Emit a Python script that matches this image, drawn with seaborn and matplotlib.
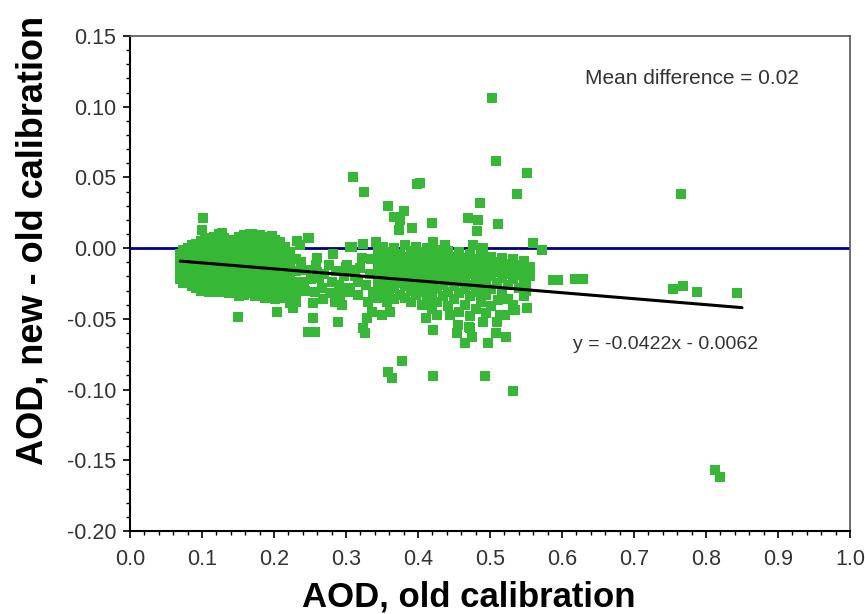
import matplotlib
matplotlib.use("Agg")
import matplotlib.pyplot as plt
import seaborn as sns
import pandas as pd
from matplotlib.ticker import MultipleLocator, FormatStrFormatter

# ---------------- data ----------------
# dense left cluster: column x positions and the y values in each column
left_cols_x = [0.070, 0.074, 0.080, 0.086, 0.092, 0.098, 0.104, 0.110, 0.117, 0.124,
               0.131, 0.138, 0.145, 0.152, 0.159, 0.166, 0.173, 0.180, 0.187, 0.194,
               0.201, 0.208, 0.215, 0.222, 0.230]
left_cols_y = [
    [-0.004, -0.010, -0.016, -0.022],
    [-0.001, -0.007, -0.013, -0.019, -0.025],
    [0.000, -0.006, -0.012, -0.018, -0.024],
    [0.002, -0.004, -0.010, -0.016, -0.022, -0.027],
    [0.003, -0.003, -0.009, -0.015, -0.021, -0.028],
    [0.005, -0.001, -0.007, -0.013, -0.019, -0.025, -0.030],
    [0.007, 0.001, -0.005, -0.011, -0.017, -0.023, -0.029],
    [0.006, 0.000, -0.006, -0.012, -0.018, -0.024, -0.031],
    [0.008, 0.002, -0.004, -0.010, -0.016, -0.022, -0.028],
    [0.010, 0.004, -0.002, -0.008, -0.014, -0.020, -0.026, -0.031],
    [0.007, 0.001, -0.005, -0.011, -0.017, -0.023, -0.029],
    [0.005, -0.001, -0.007, -0.013, -0.019, -0.025, -0.032],
    [0.006, 0.000, -0.006, -0.012, -0.018, -0.024, -0.030],
    [0.008, 0.002, -0.004, -0.010, -0.016, -0.022, -0.028, -0.034],
    [0.009, 0.003, -0.003, -0.009, -0.015, -0.021, -0.027, -0.033],
    [0.010, 0.004, -0.002, -0.008, -0.014, -0.020, -0.026, -0.032],
    [0.008, 0.002, -0.004, -0.010, -0.016, -0.022, -0.028, -0.034],
    [0.009, 0.003, -0.003, -0.009, -0.015, -0.021, -0.027, -0.033],
    [0.007, 0.001, -0.005, -0.011, -0.017, -0.023, -0.029, -0.035],
    [0.008, 0.002, -0.004, -0.010, -0.016, -0.022, -0.028, -0.034],
    [0.006, 0.000, -0.006, -0.012, -0.018, -0.024, -0.030, -0.036],
    [0.004, -0.002, -0.008, -0.014, -0.020, -0.026, -0.032],
    [0.001, -0.005, -0.011, -0.017, -0.023, -0.029, -0.035],
    [-0.003, -0.009, -0.015, -0.021, -0.027, -0.033, -0.039],
    [-0.008, -0.016, -0.024, -0.031, -0.038],
]

# dense right cluster
right_cols_x = [0.345, 0.352, 0.360, 0.367, 0.375, 0.382, 0.390, 0.397, 0.405, 0.412,
                0.420, 0.427, 0.435, 0.442, 0.450, 0.457, 0.465, 0.472, 0.480, 0.487,
                0.495, 0.502, 0.510, 0.517, 0.525, 0.532, 0.540, 0.547, 0.555]
right_cols_y = [
    [-0.002, -0.009, -0.016, -0.023, -0.030],
    [0.001, -0.006, -0.013, -0.020, -0.027, -0.034],
    [-0.003, -0.010, -0.017, -0.024, -0.031],
    [0.000, -0.007, -0.014, -0.021, -0.028, -0.036],
    [-0.004, -0.011, -0.018, -0.025, -0.033],
    [0.002, -0.006, -0.013, -0.020, -0.027, -0.035],
    [-0.002, -0.009, -0.016, -0.023, -0.030, -0.038],
    [0.001, -0.005, -0.012, -0.019, -0.026, -0.033],
    [-0.003, -0.010, -0.017, -0.024, -0.031, -0.040],
    [0.000, -0.007, -0.014, -0.021, -0.028, -0.036],
    [-0.004, -0.011, -0.018, -0.025, -0.033, -0.043],
    [-0.001, -0.008, -0.015, -0.022, -0.029, -0.038],
    [-0.005, -0.012, -0.019, -0.026, -0.034],
    [-0.002, -0.009, -0.016, -0.023, -0.031, -0.041],
    [-0.006, -0.013, -0.020, -0.027, -0.036],
    [-0.003, -0.010, -0.017, -0.024, -0.032, -0.045],
    [-0.007, -0.014, -0.021, -0.029, -0.040],
    [-0.004, -0.011, -0.018, -0.026, -0.034, -0.048],
    [-0.008, -0.015, -0.022, -0.031, -0.043],
    [-0.005, -0.012, -0.019, -0.027, -0.038],
    [-0.009, -0.016, -0.024, -0.033, -0.046],
    [-0.006, -0.013, -0.020, -0.029, -0.041],
    [-0.010, -0.017, -0.025, -0.052],
    [-0.007, -0.014, -0.021, -0.031],
    [-0.011, -0.018, -0.026, -0.036],
    [-0.008, -0.015, -0.022, -0.040],
    [-0.012, -0.019, -0.028],
    [-0.009, -0.016, -0.023, -0.034],
    [-0.013, -0.020],
]

# points in the band between the two clusters
mid_x = [0.238, 0.243, 0.252, 0.258, 0.266, 0.270, 0.286, 0.290, 0.297, 0.303,
         0.313, 0.320, 0.328, 0.333, 0.338, 0.268, 0.335]
mid_y = [-0.010, -0.030, -0.022, -0.012, -0.028, -0.018, -0.016, -0.026, -0.020, -0.028,
         -0.020, -0.014, -0.026, -0.018, -0.031, -0.036, -0.008]

# scattered individual points
scatter_x = [0.101, 0.100, 0.128, 0.169, 0.197, 0.232, 0.247, 0.150, 0.204, 0.226,
             0.249, 0.236, 0.260, 0.282, 0.277, 0.245, 0.260, 0.241, 0.262, 0.280,
             0.257, 0.278, 0.292, 0.285, 0.294, 0.254, 0.254, 0.289, 0.247, 0.257,
             0.308, 0.324, 0.342, 0.306, 0.322, 0.301, 0.310, 0.317, 0.306, 0.317,
             0.331, 0.336, 0.329, 0.324, 0.326, 0.350, 0.361, 0.343, 0.357, 0.300,
             0.310, 0.325, 0.358, 0.367, 0.380, 0.373, 0.399, 0.375, 0.391, 0.419,
             0.403, 0.421, 0.438, 0.476, 0.490, 0.470, 0.483, 0.482, 0.511, 0.486,
             0.537, 0.551, 0.508, 0.503, 0.560, 0.572, 0.511, 0.556, 0.550, 0.550,
             0.551, 0.535, 0.521, 0.511, 0.411, 0.421, 0.456, 0.471, 0.454, 0.465,
             0.475, 0.497, 0.522, 0.508, 0.426, 0.444, 0.472, 0.490, 0.514, 0.358,
             0.364, 0.378, 0.421, 0.493, 0.532, 0.588, 0.594, 0.618, 0.629, 0.765,
             0.754, 0.768, 0.787, 0.843, 0.812, 0.820]
scatter_y = [0.021, 0.013, 0.011, 0.010, 0.0085, 0.005, 0.007, -0.049, -0.045, -0.042,
             0.007, 0.002, -0.007, -0.004, -0.012, -0.0155, -0.017, -0.024, -0.021, -0.024,
             -0.031, -0.032, -0.033, -0.038, -0.040, -0.039, -0.0495, -0.052, -0.0595, -0.0595,
             0.0007, 0.003, 0.004, 0.001, -0.007, -0.012, -0.0155, -0.024, -0.031, -0.033,
             -0.038, -0.045, -0.0495, -0.0565, -0.060, -0.047, -0.045, -0.035, -0.038, -0.013,
             0.050, 0.040, 0.030, 0.022, 0.026, 0.013, 0.045, 0.020, 0.014, 0.018,
             0.046, 0.004, 0.002, 0.002, 0.000, 0.021, 0.020, 0.012, 0.017, 0.032,
             0.038, 0.053, 0.0615, 0.106, 0.0035, -0.001, -0.012, -0.016, -0.024, -0.030,
             -0.042, -0.044, -0.047, -0.037, -0.0495, -0.058, -0.0545, -0.056, -0.060, -0.067,
             -0.063, -0.067, -0.063, -0.060, -0.047, -0.047, -0.0565, -0.052, -0.047, -0.0877,
             -0.092, -0.080, -0.0905, -0.0905, -0.101, -0.0226, -0.0226, -0.022, -0.022, 0.038,
             -0.029, -0.027, -0.031, -0.032, -0.157, -0.162]

# regression line (from the chart's equation) and its x extent
fit_slope = -0.0422
fit_intercept = -0.0062
fit_x_range = [0.07, 0.85]

x_ticks = [0.0, 0.1, 0.2, 0.3, 0.4, 0.5, 0.6, 0.7, 0.8, 0.9, 1.0]
y_ticks = [-0.20, -0.15, -0.10, -0.05, 0.00, 0.05, 0.10, 0.15]

# ---------------- build table ----------------
xs, ys = [], []
for cx, cys in zip(left_cols_x + right_cols_x, left_cols_y + right_cols_y):
    for cy in cys:
        xs.append(cx)
        ys.append(cy)
xs += mid_x + scatter_x
ys += mid_y + scatter_y
df = pd.DataFrame({"old": xs, "diff": ys})
fit_df = pd.DataFrame({"x": fit_x_range,
                       "y": [fit_slope * v + fit_intercept for v in fit_x_range]})

# ---------------- plot ----------------
sns.set_theme(style="white")
plt.rcParams["font.family"] = ["Liberation Sans", "DejaVu Sans"]

W, H = 865, 614
fig = plt.figure(figsize=(W / 100, H / 100), dpi=100)
ax = fig.add_axes([130 / W, 1 - 531 / H, 720 / W, 495 / H])

ax.axhline(0.0, color="#000080", lw=2.0, zorder=1)
sns.scatterplot(data=df, x="old", y="diff", marker="s", s=45, color="#36b836",
                linewidth=0, ax=ax, zorder=2)
sns.lineplot(data=fit_df, x="x", y="y", color="black", lw=2.2, ax=ax, zorder=3)

ax.set_xlim(0.0, 1.0)
ax.set_ylim(-0.20, 0.15)
ax.set_xticks(x_ticks)
ax.set_yticks(y_ticks)
ax.xaxis.set_major_formatter(FormatStrFormatter("%.1f"))
ax.yaxis.set_major_formatter(FormatStrFormatter("%.2f"))
ax.xaxis.set_minor_locator(MultipleLocator(0.02))
ax.yaxis.set_minor_locator(MultipleLocator(0.01))
ax.tick_params(axis="both", which="major", direction="out", length=5, width=1.2,
               color="black", labelsize=15.5, labelcolor="#333333",
               bottom=True, left=True)
ax.tick_params(axis="x", which="major", pad=8)
ax.tick_params(axis="y", which="major", pad=5)
ax.tick_params(axis="both", which="minor", direction="out", length=3, width=1.0,
               color="black", bottom=True, left=True)
for side, sp in ax.spines.items():
    sp.set_visible(True)
    sp.set_color("black" if side in ("left", "bottom") else "#555555")
    sp.set_linewidth(1.5 if side in ("left", "bottom") else 1.2)

ax.set_xlabel("")
ax.set_ylabel("")
fig.text(469 / W, 1 - 607 / H, "AOD, old calibration", fontsize=25,
         fontweight="bold", color="black", ha="center", va="baseline")
fig.text(43 / W, 1 - 240 / H, "AOD, new - old calibration", fontsize=26,
         fontweight="bold", color="black", ha="center", va="baseline",
         rotation=90, rotation_mode="anchor")

ax.text(0.632, 0.120, "Mean difference = 0.02", fontsize=15, color="#333333",
        va="center", ha="left")
ax.text(0.615, -0.068, "y = -0.0422x - 0.0062", fontsize=14, color="#333333",
        va="center", ha="left")

fig.savefig("out.png", dpi=100, facecolor="white")
